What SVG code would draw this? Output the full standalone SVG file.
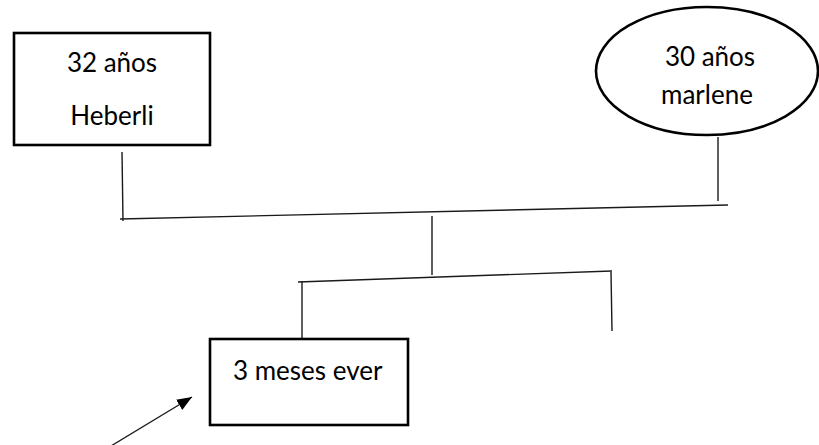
<svg xmlns="http://www.w3.org/2000/svg" width="819" height="445" viewBox="0 0 819 445">
  <style>
    .shape { fill: #ffffff; stroke: #000000; stroke-width: 2.6; }
    .label { font-family: Lato, "Open Sans", "Noto Sans", sans-serif; font-size: 26px; fill: #000000; }
    .link { fill: none; stroke: #1a1a1a; stroke-width: 1.4; stroke-linecap: butt; }
  </style>
  <defs>
    <marker id="tip" viewBox="0 0 15 12" refX="15" refY="6" markerWidth="15" markerHeight="12" markerUnits="userSpaceOnUse" orient="auto">
      <path d="M0,0 L15,6 L0,12 z" fill="#000000"/>
    </marker>
  </defs>

  <rect width="819" height="445" fill="#ffffff"/>

  <!-- family tree lines -->
  <g id="connectors">
    <line class="link" x1="122" y1="152" x2="123" y2="221"/>
    <line class="link" x1="718" y1="137" x2="718" y2="201"/>
    <line class="link" x1="120" y1="219" x2="728" y2="205"/>
    <line class="link" x1="432" y1="216" x2="432" y2="275"/>
    <line class="link" x1="298" y1="282" x2="612" y2="271"/>
    <line class="link" x1="302" y1="281" x2="302" y2="339"/>
    <line class="link" x1="611" y1="272" x2="612" y2="331"/>
    <line class="link" x1="106" y1="449" x2="192" y2="397" stroke="#000000" marker-end="url(#tip)" style="stroke-width:1.3"/>
  </g>

  <g id="father">
    <rect class="shape" x="14" y="33" width="196" height="112"/>
    <text class="label" x="112" y="72" text-anchor="middle">32 años</text>
    <text class="label" x="112" y="125" text-anchor="middle">Heberli</text>
  </g>

  <g id="mother">
    <ellipse class="shape" cx="707" cy="71" rx="111" ry="64"/>
    <text class="label" x="710" y="66" text-anchor="middle">30 años</text>
    <text class="label" x="707" y="104" text-anchor="middle">marlene</text>
  </g>

  <g id="child">
    <rect class="shape" x="210" y="339" width="198" height="86"/>
    <text class="label" x="233" y="380">3 meses ever</text>
  </g>
</svg>
